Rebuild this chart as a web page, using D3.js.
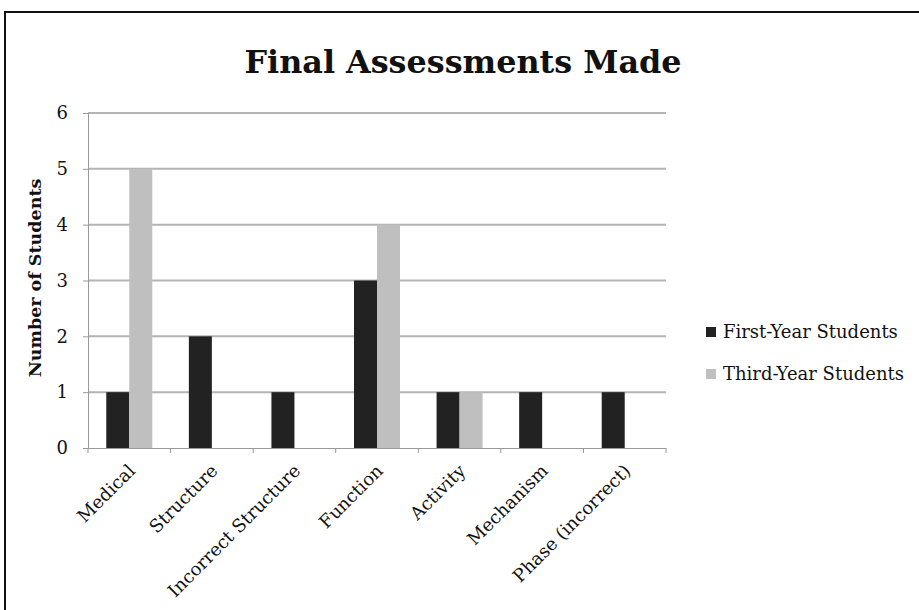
<!DOCTYPE html>
<meta charset="utf-8">
<style>
body { margin: 0; background: #fff; }
text { font-family: "DejaVu Serif", "Liberation Serif", serif; fill: #111; }
.grid line { stroke: #b4b4b4; stroke-width: 2px; }
.axis path, .axis line { stroke: #999; }
</style>
<body>
<script src="https://d3js.org/d3.v7.min.js"></script>
<script>

// chart data
var categories = ["Medical", "Structure", "Incorrect Structure", "Function", "Activity", "Mechanism", "Phase (incorrect)"];
var seriesNames = ["First-Year Students", "Third-Year Students"];
var firstYear = [1, 2, 1, 3, 1, 1, 1];
var thirdYear = [5, 0, 0, 4, 1, 0, 0];
var yTicks = [0, 1, 2, 3, 4, 5, 6];
var colors = ["#222222", "#bfbfbf"];

var width = 919, height = 610;
var plot = {left: 88, right: 666, top: 113, bottom: 448};

var svg = d3.select("body").append("svg")
    .attr("width", width)
    .attr("height", height);

// outer frame
svg.append("rect")
    .attr("x", 5).attr("y", 12)
    .attr("width", 930).attr("height", 620)
    .attr("fill", "none").attr("stroke", "#111").attr("stroke-width", 2);

var x = d3.scaleBand().domain(categories).range([plot.left, plot.right]);
var y = d3.scaleLinear().domain([0, 6]).range([plot.bottom, plot.top]);
var barW = 23;

// gridlines
svg.append("g").attr("class", "grid")
  .selectAll("line").data(yTicks.slice(1)).enter().append("line")
    .attr("x1", plot.left).attr("x2", plot.right)
    .attr("y1", function(d) { return y(d); })
    .attr("y2", function(d) { return y(d); });

// bars
var rows = categories.map(function(c, i) { return {cat: c, vals: [firstYear[i], thirdYear[i]]}; });
var groups = svg.append("g").selectAll("g").data(rows).enter().append("g");
groups.selectAll("rect")
    .data(function(d) { return d.vals.map(function(v, k) { return {cat: d.cat, v: v, k: k}; }); })
    .enter().append("rect")
    .attr("x", function(d) { return x(d.cat) + x.bandwidth() / 2 - barW + d.k * barW; })
    .attr("y", function(d) { return y(d.v); })
    .attr("width", barW)
    .attr("height", function(d) { return y(0) - y(d.v); })
    .attr("fill", function(d) { return colors[d.k]; });

// y axis
var yAxis = svg.append("g").attr("class", "axis")
    .attr("transform", "translate(" + plot.left + ",0)")
    .call(d3.axisLeft(y).tickValues(yTicks).tickSize(5).tickPadding(15).tickFormat(d3.format("d")));
yAxis.selectAll("text").style("font-size", "18px").style("font-family", "DejaVu Serif");

// x axis
var xAxis = svg.append("g").attr("class", "axis")
    .attr("transform", "translate(0," + plot.bottom + ")")
    .call(d3.axisBottom(x).tickSize(0).tickFormat(""));
xAxis.selectAll("line.sep")
    .data(d3.range(categories.length + 1)).enter().append("line")
    .attr("x1", function(i) { return plot.left + i * x.step(); })
    .attr("x2", function(i) { return plot.left + i * x.step(); })
    .attr("y1", 0).attr("y2", 5)
    .attr("stroke", "#999");

svg.append("g").selectAll("text").data(categories).enter().append("text")
    .attr("text-anchor", "end")
    .attr("transform", function(d) {
      return "translate(" + (x(d) + x.bandwidth() / 2 + 7) + "," + (plot.bottom + 24) + ") rotate(-45)";
    })
    .style("font-size", "18px")
    .text(function(d) { return d; });

// title
svg.append("text")
    .attr("x", 463).attr("y", 73)
    .attr("text-anchor", "middle")
    .attr("textLength", 437).attr("lengthAdjust", "spacingAndGlyphs")
    .style("font-size", "32px").style("font-weight", "bold")
    .text("Final Assessments Made");

// y label
svg.append("text")
    .attr("transform", "translate(41,278) rotate(-90)")
    .attr("text-anchor", "middle")
    .style("font-size", "17.5px").style("font-weight", "bold")
    .text("Number of Students");

// legend
var legend = svg.append("g").selectAll("g").data(seriesNames).enter().append("g")
    .attr("transform", function(d, i) { return "translate(706," + (327 + i * 42) + ")"; });
legend.append("rect").attr("width", 10).attr("height", 10)
    .attr("fill", function(d, i) { return colors[i]; });
legend.append("text").attr("x", 17).attr("y", 11)
    .style("font-size", "18px")
    .text(function(d) { return d; });

</script>
</body>
